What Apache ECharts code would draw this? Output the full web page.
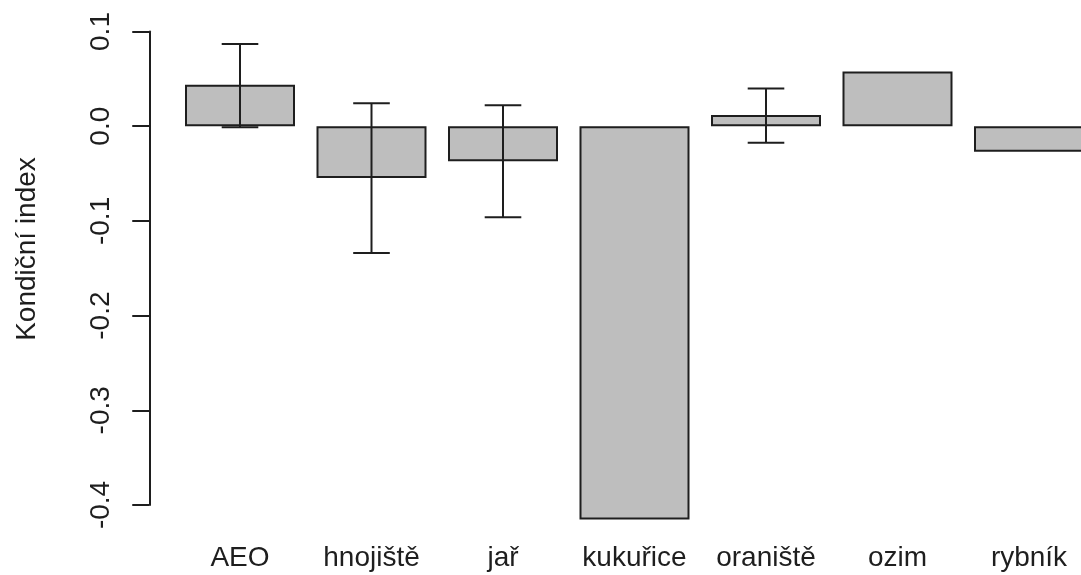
<!DOCTYPE html>
<html>
<head>
<meta charset="utf-8">
<style>
  html, body { margin: 0; padding: 0; background: #ffffff; }
  #chart { width: 1081px; height: 575px; }
</style>
<script src="https://cdn.jsdelivr.net/npm/echarts@6/dist/echarts.min.js"></script>
</head>
<body>
<div id="chart"></div>
<script>
// Habitat categories and mean condition index per habitat
const categories = ['AEO', 'hnojiště', 'jař', 'kukuřice', 'oraniště', 'ozim', 'rybník'];
const means = [0.0439, -0.0546, -0.0371, -0.4154, 0.0119, 0.0577, -0.0271];
// Error bar limits (null where no interval is available)
const lowerLimits = [-0.0012, -0.1338, -0.0962, null, -0.0176, null, null];
const upperLimits = [0.0869, 0.0242, 0.0221, null, 0.0397, null, null];
// Y axis ticks
const yTicks = [-0.4, -0.3, -0.2, -0.1, 0.0, 0.1];

const FONT = 'Liberation Sans, Arial, sans-serif';
const TEXT_COLOR = '#1e1e1e';

const errorData = categories.map((c, i) => [i, lowerLimits[i], upperLimits[i]]);

const chart = echarts.init(document.getElementById('chart'), null, { renderer: 'canvas' });

chart.setOption({
  animation: false,
  backgroundColor: '#ffffff',
  // the plotting region runs past the right edge of the canvas
  grid: {
    left: 174.25, top: 31.5, width: 920.5, height: 473.5,
    containLabel: false, outerBoundsMode: 'none'
  },
  xAxis: {
    type: 'category',
    data: categories,
    axisLine: { show: false, onZero: false },
    axisTick: { show: false },
    splitLine: { show: false },
    axisLabel: {
      interval: 0,
      margin: 39,
      fontFamily: FONT,
      fontSize: 28,
      color: TEXT_COLOR
    }
  },
  yAxis: {
    type: 'value',
    min: yTicks[0],
    max: yTicks[yTicks.length - 1],
    interval: 0.1,
    offset: 25,
    splitLine: { show: false },
    axisLine: { show: true, lineStyle: { color: '#1e1e1e', width: 2 } },
    axisTick: { show: true, length: 17, lineStyle: { color: '#1e1e1e', width: 2 } },
    axisLabel: {
      rotate: 90,
      margin: 34,
      fontFamily: FONT,
      fontSize: 28,
      color: TEXT_COLOR,
      formatter: v => v.toFixed(1)
    }
  },
  graphic: [{
    type: 'text',
    x: 27,
    y: 249,
    rotation: Math.PI / 2,
    style: {
      text: 'Kondiční index',
      font: '28px ' + FONT,
      fill: TEXT_COLOR,
      align: 'center',
      verticalAlign: 'middle'
    }
  }],
  series: [
    {
      type: 'bar',
      data: means,
      barWidth: 110,
      clip: false,
      itemStyle: { color: '#bebebe', borderColor: '#1e1e1e', borderWidth: 2 }
    },
    {
      type: 'custom',
      data: errorData,
      clip: false,
      z: 5,
      renderItem: function (params, api) {
        const lo = api.value(1);
        const hi = api.value(2);
        if (lo == null || hi == null || isNaN(lo) || isNaN(hi)) return null;
        const idx = api.value(0);
        const pLo = api.coord([idx, lo]);
        const pHi = api.coord([idx, hi]);
        const half = 18.3;
        const style = { stroke: '#1e1e1e', lineWidth: 2 };
        return {
          type: 'group',
          children: [
            { type: 'line', shape: { x1: pLo[0], y1: pLo[1], x2: pHi[0], y2: pHi[1] }, style: style },
            { type: 'line', shape: { x1: pHi[0] - half, y1: pHi[1], x2: pHi[0] + half, y2: pHi[1] }, style: style },
            { type: 'line', shape: { x1: pLo[0] - half, y1: pLo[1], x2: pLo[0] + half, y2: pLo[1] }, style: style }
          ]
        };
      }
    }
  ]
});
</script>
</body>
</html>
